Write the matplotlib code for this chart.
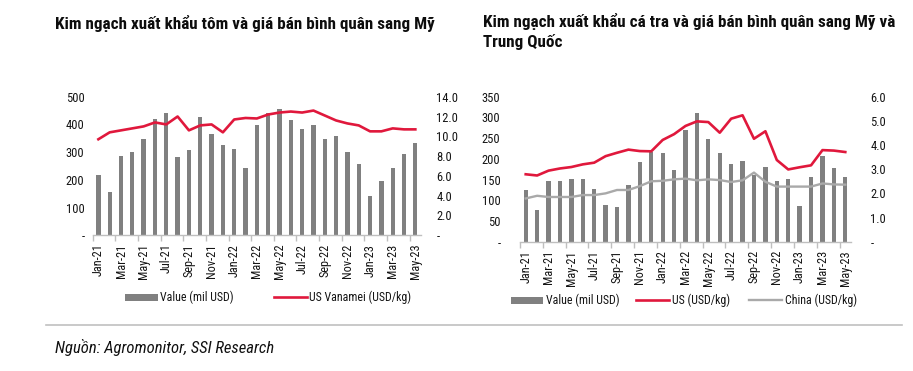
import matplotlib
matplotlib.use("Agg")
import matplotlib.pyplot as plt
from matplotlib import font_manager
from matplotlib.patches import Rectangle
from matplotlib.lines import Line2D
import numpy as np

# ---------------- data ----------------
months = ["Jan-21", "Feb-21", "Mar-21", "Apr-21", "May-21", "Jun-21", "Jul-21", "Aug-21",
          "Sep-21", "Oct-21", "Nov-21", "Dec-21", "Jan-22", "Feb-22", "Mar-22", "Apr-22",
          "May-22", "Jun-22", "Jul-22", "Aug-22", "Sep-22", "Oct-22", "Nov-22", "Dec-22",
          "Jan-23", "Feb-23", "Mar-23", "Apr-23", "May-23"]

shrimp_value = [219, 156, 285, 300, 349, 419, 440, 281, 308, 425, 367, 327, 312, 244,
                397, 442, 456, 416, 382, 399, 349, 359, 300, 258, 141, 195, 242, 292, 332]
shrimp_us_price = [9.7, 10.4, 10.6, 10.8, 11.0, 11.4, 11.2, 12.0, 10.6, 11.1, 11.2, 10.4,
                   11.7, 11.85, 11.8, 12.2, 12.4, 12.5, 12.4, 12.6, 12.1, 11.6, 11.3, 11.1,
                   10.5, 10.5, 10.8, 10.7, 10.7]

fish_value = [125, 76, 147, 147, 151, 151, 128, 89, 84, 138, 192, 217, 215, 172,
              269, 310, 249, 214, 187, 196, 160, 180, 147, 151, 85, 157, 208, 177, 157]
fish_us_price = [2.79, 2.74, 2.94, 3.03, 3.09, 3.20, 3.27, 3.54, 3.68, 3.81, 3.75, 3.74,
                 4.21, 4.45, 4.79, 4.98, 4.95, 4.51, 5.09, 5.23, 4.26, 4.57, 3.38, 2.99,
                 3.08, 3.16, 3.79, 3.77, 3.71]
fish_china_price = [1.79, 1.90, 1.85, 1.85, 1.85, 1.93, 1.93, 2.00, 2.14, 2.14, 2.30, 2.50,
                    2.52, 2.58, 2.61, 2.54, 2.58, 2.55, 2.47, 2.54, 2.86, 2.48, 2.28, 2.28,
                    2.28, 2.28, 2.41, 2.37, 2.36]

title_left = "Kim ngạch xuất khẩu tôm và giá bán bình quân sang Mỹ"
title_right = "Kim ngạch xuất khẩu cá tra và giá bán bình quân sang Mỹ và\nTrung Quốc"
legend_left = ["Value (mil USD)", "US Vanamei (USD/kg)"]
legend_right = ["Value (mil USD)", "US (USD/kg)", "China (USD/kg)"]
source_text = "Nguồn: Agromonitor, SSI Research"

# ---------------- style ----------------
names = {f.name for f in font_manager.fontManager.ttflist}
FONT = next((n for n in ("Roboto Condensed", "Archivo Narrow", "PT Sans Narrow") if n in names),
            "DejaVu Sans")
plt.rcParams["font.family"] = [FONT, "DejaVu Sans"]

BAR = "#808080"
RED = "#e0183c"
LGREY = "#a9a9a9"
TXT = "#141414"

W, H = 913, 371
fig = plt.figure(figsize=(W / 100, H / 100), dpi=100)


def fx(px):
    return px / W


def fy(py):
    return 1 - py / H


def frac_rect(x0, x1, ytop, ybot):
    return [x0 / W, 1 - ybot / H, (x1 - x0) / W, (ybot - ytop) / H]


def style_axes(ax, ax2, ymax_l, step_l, ymax_r, step_r, padl, padr):
    n = len(months)
    x = np.arange(n)
    ax.set_xlim(-0.5, n - 0.5)
    ax.set_ylim(0, ymax_l)
    ax2.set_ylim(0, ymax_r)
    for a in (ax, ax2):
        for s in ("top", "left", "right", "bottom"):
            a.spines[s].set_visible(False)
    ax.spines["bottom"].set_visible(True)
    ax.spines["bottom"].set_color("#bfbfbf")
    ax.spines["bottom"].set_linewidth(1.0)
    ax.set_xticks(x[::2])
    ax.set_xticklabels([months[i] for i in x[::2]], rotation=90, fontsize=8.8, color=TXT)
    ax.tick_params(axis="x", which="major", length=0, pad=6)
    ax.set_xticks(x[::2] - 0.5, minor=True)
    ax.tick_params(axis="x", which="minor", length=4, color="#bfbfbf", width=1.0)
    lt = np.arange(0, ymax_l + 1e-9, step_l)
    ax.set_yticks(lt)
    ax.set_yticklabels(["-" if v == 0 else f"{v:.0f}" for v in lt], fontsize=9, color=TXT)
    ax.tick_params(axis="y", length=0, pad=padl)
    rt = np.arange(0, ymax_r + 1e-9, step_r)
    ax2.set_yticks(rt)
    ax2.set_yticklabels(["-" if v == 0 else f"{v:.1f}" for v in rt], fontsize=9, color=TXT)
    ax2.tick_params(axis="y", length=0, pad=padr)


# ---------------- left chart ----------------
axL = fig.add_axes(frac_rect(92.7, 421, 96.7, 235.3))
axL2 = axL.twinx()
xL = np.arange(len(months))
axL.bar(xL, shrimp_value, width=0.38, color=BAR, zorder=2)
axL2.plot(xL, shrimp_us_price, color=RED, lw=1.9, zorder=3)
style_axes(axL, axL2, 500, 100, 14, 2, 6, 11)

# ---------------- right chart ----------------
axR = fig.add_axes(frac_rect(520, 851, 96.7, 241.7))
axR2 = axR.twinx()
xR = np.arange(len(months))
axR.bar(xR, fish_value, width=0.38, color=BAR, zorder=2)
axR2.plot(xR, fish_china_price, color=LGREY, lw=1.7, zorder=3)
axR2.plot(xR, fish_us_price, color=RED, lw=1.9, zorder=4)
style_axes(axR, axR2, 350, 50, 6, 1, 14, 14)

# ---------------- titles ----------------
fig.text(fx(55), fy(23), title_left, fontsize=12.3, fontweight="bold", color="#0d0d0d",
         ha="left", va="center")
fig.text(fx(483), fy(13), title_right, fontsize=12.3, fontweight="bold", color="#0d0d0d",
         ha="left", va="top", linespacing=1.3)

# ---------------- legends (drawn by hand at reference positions) ----------------
def leg_patch(x0, x1, yc):
    fig.add_artist(Rectangle((fx(x0), fy(yc + 3.5)), fx(x1) - fx(x0), 7 / H,
                             facecolor=BAR, edgecolor="none", transform=fig.transFigure))


def leg_line(x0, x1, yc, color, lw):
    fig.add_artist(Line2D([fx(x0), fx(x1)], [fy(yc), fy(yc)], color=color, lw=lw,
                          transform=fig.transFigure))


def leg_text(x, yc, s):
    fig.text(fx(x), fy(yc), s, fontsize=8.6, color=TXT, ha="left", va="center")


leg_patch(125, 158, 297)
leg_text(160, 297, legend_left[0])
leg_line(274, 307, 297, RED, 1.9)
leg_text(309, 297, legend_left[1])

leg_patch(511, 543, 300)
leg_text(546, 300, legend_right[0])
leg_line(636, 669, 300, RED, 1.9)
leg_text(672, 300, legend_right[1])
leg_line(749, 782, 300, LGREY, 1.7)
leg_text(785, 300, legend_right[2])

# ---------------- separator + source ----------------
fig.add_artist(Line2D([fx(46), fx(902)], [fy(325), fy(325)], color="#c0c0c0", lw=1.2))
fig.text(fx(55), fy(348), source_text, fontsize=12, style="italic", color="#111111",
         ha="left", va="center")

fig.savefig("out.png", dpi=100)
